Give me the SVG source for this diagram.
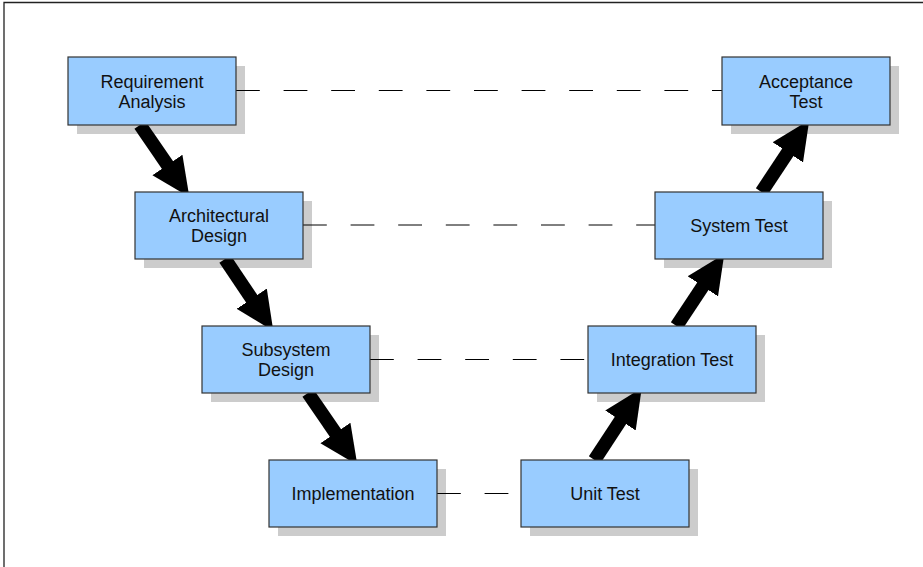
<svg xmlns="http://www.w3.org/2000/svg" width="923" height="567" viewBox="0 0 923 567">
  <style>
    .shadow { fill: #cccccc; }
    .box { fill: #99ccff; stroke: #333333; stroke-width: 1.2; }
    .label { font-family: "Liberation Sans", Arial, sans-serif; font-size: 18px; fill: #111111; text-anchor: middle; }
    .dash { stroke: #000000; stroke-width: 1; stroke-dasharray: 23.8 23.8; fill: none; }
    .flow { stroke: #000000; stroke-width: 13.5; fill: none; marker-end: url(#head); }
  </style>
  <defs>
    <marker id="head" markerUnits="userSpaceOnUse" markerWidth="40" markerHeight="40" viewBox="0 -16 33 32" refX="4" refY="0" orient="auto">
      <path d="M0,-15 L32,0 L0,15 z" fill="#000000"/>
    </marker>
  </defs>
  <rect width="923" height="567" fill="#ffffff"/>
  <path d="M4,567 V2.5 H923" fill="none" stroke="#222222" stroke-width="1.3"/>

  <g id="shadows">
    <rect class="shadow" x="77" y="66" width="168" height="68"/>
    <rect class="shadow" x="144" y="201" width="168" height="67"/>
    <rect class="shadow" x="211" y="335" width="168" height="67"/>
    <rect class="shadow" x="278" y="469" width="168" height="67"/>
    <rect class="shadow" x="530" y="469" width="168" height="67"/>
    <rect class="shadow" x="597" y="335" width="168" height="67"/>
    <rect class="shadow" x="664" y="201" width="168" height="67"/>
    <rect class="shadow" x="731" y="66" width="168" height="68"/>
  </g>

  <g id="connectors">
    <line class="dash" x1="236" y1="90.5" x2="722" y2="90.5"/>
    <line class="dash" x1="303" y1="225" x2="655" y2="225"/>
    <line class="dash" x1="370" y1="359.5" x2="588" y2="359.5"/>
    <line class="dash" x1="437" y1="493.5" x2="521" y2="493.5"/>
    <line class="flow" x1="140" y1="125" x2="170.15" y2="168.93"/>
    <line class="flow" x1="225" y1="259" x2="254.39" y2="302.76"/>
    <line class="flow" x1="308" y1="393" x2="338.15" y2="436.93"/>
    <line class="flow" x1="594.5" y1="460" x2="623.13" y2="416.4"/>
    <line class="flow" x1="676.5" y1="326" x2="705.51" y2="282.32"/>
    <line class="flow" x1="761.5" y1="192" x2="790.51" y2="148.32"/>
  </g>

  <g id="requirement-analysis">
    <rect class="box" x="68" y="57" width="168" height="68"/>
    <text class="label" x="152" y="88">Requirement</text>
    <text class="label" x="152" y="108">Analysis</text>
  </g>
  <g id="architectural-design">
    <rect class="box" x="135" y="192" width="168" height="67"/>
    <text class="label" x="219" y="221.5">Architectural</text>
    <text class="label" x="219" y="241.5">Design</text>
  </g>
  <g id="subsystem-design">
    <rect class="box" x="202" y="326" width="168" height="67"/>
    <text class="label" x="286" y="356">Subsystem</text>
    <text class="label" x="286" y="376">Design</text>
  </g>
  <g id="implementation">
    <rect class="box" x="269" y="460" width="168" height="67"/>
    <text class="label" x="353" y="500">Implementation</text>
  </g>
  <g id="unit-test">
    <rect class="box" x="521" y="460" width="168" height="67"/>
    <text class="label" x="605" y="500">Unit Test</text>
  </g>
  <g id="integration-test">
    <rect class="box" x="588" y="326" width="168" height="67"/>
    <text class="label" x="672" y="366">Integration Test</text>
  </g>
  <g id="system-test">
    <rect class="box" x="655" y="192" width="168" height="67"/>
    <text class="label" x="739" y="232">System Test</text>
  </g>
  <g id="acceptance-test">
    <rect class="box" x="722" y="57" width="168" height="68"/>
    <text class="label" x="806" y="88">Acceptance</text>
    <text class="label" x="806" y="108">Test</text>
  </g>
</svg>
